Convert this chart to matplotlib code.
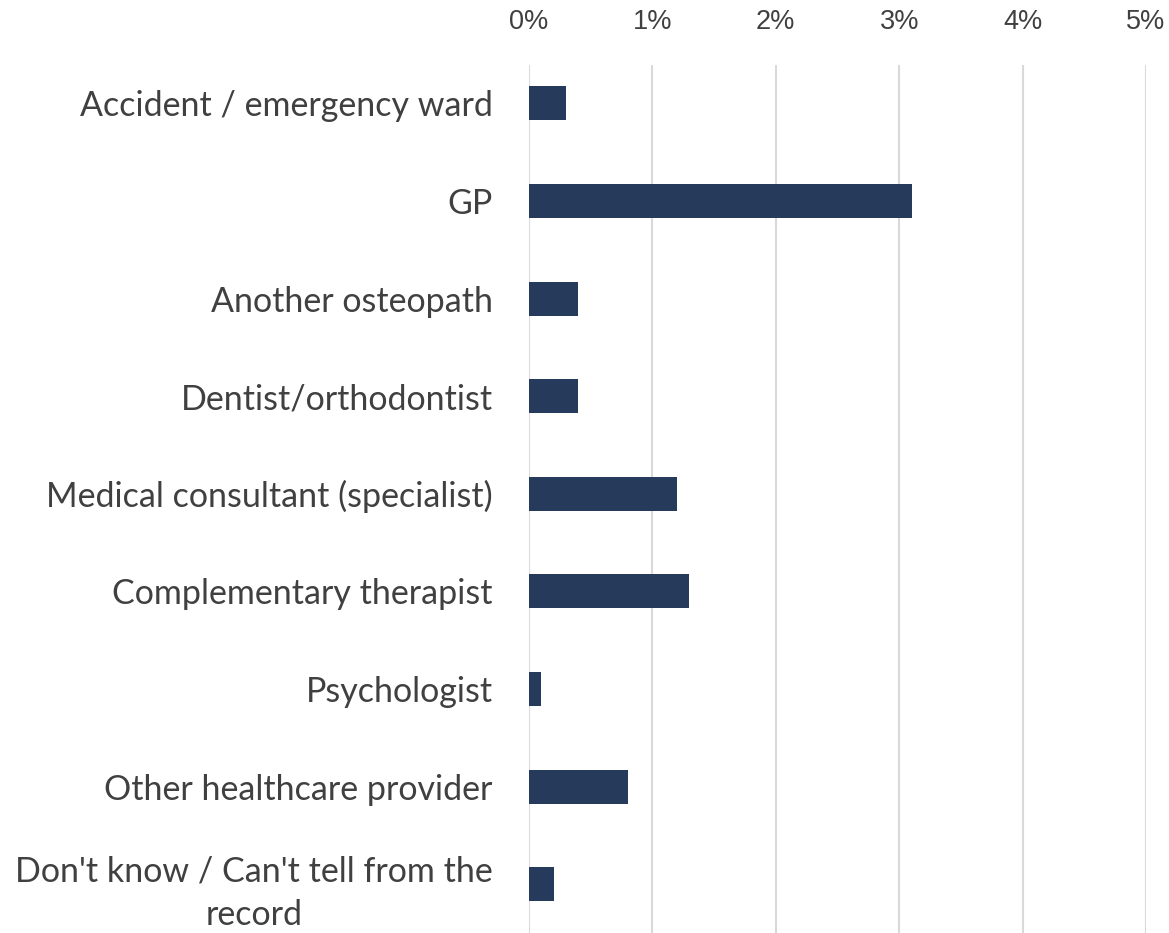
import matplotlib.pyplot as plt
import numpy as np

categories = [
    "Accident / emergency ward",
    "GP",
    "Another osteopath",
    "Dentist/orthodontist",
    "Medical consultant (specialist)",
    "Complementary therapist",
    "Psychologist",
    "Other healthcare provider",
    "Don't know / Can't tell from the\nrecord",
]
values = [0.3, 3.1, 0.4, 0.4, 1.2, 1.3, 0.1, 0.8, 0.2]
ticks = [0, 1, 2, 3, 4, 5]
tick_labels = ["0%", "1%", "2%", "3%", "4%", "5%"]

fig = plt.figure(figsize=(11.69, 9.33), dpi=100)
ax = fig.add_axes([0.4525, 0.0, 0.5278, 0.930])

y = np.arange(len(categories))
ax.barh(y, values, height=0.35, color="#263B5C", zorder=3)

ax.set_xlim(0, 5)
ax.set_ylim(len(categories) - 0.5, -0.39)
ax.set_xticks(ticks)
ax.set_xticklabels(tick_labels, fontsize=19.5, color="#404040", family="Liberation Sans")
ax.xaxis.tick_top()
ax.tick_params(axis="x", length=0, pad=22)
ax.set_yticks(y)
ax.set_yticklabels(categories, fontsize=24.5, color="#404040", family="Lato",
                   multialignment="center", linespacing=1.45)
ax.tick_params(axis="y", length=0, pad=26)
ax.grid(axis="x", color="#D9D9D9", linewidth=1.5, zorder=0)
for s in ax.spines.values():
    s.set_visible(False)

fig.savefig("out.png", dpi=100)
